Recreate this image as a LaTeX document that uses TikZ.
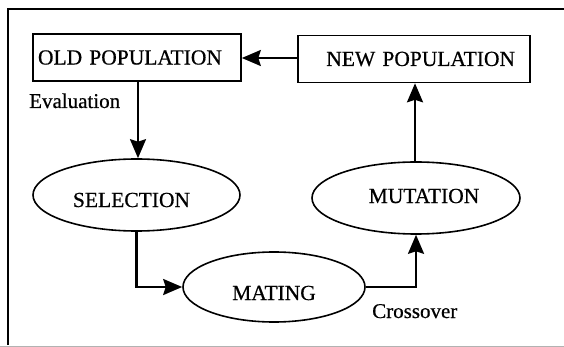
\documentclass[tikz,border=0pt]{standalone}
\usepackage{fontspec}
\setmainfont{Liberation Serif}
\newfontfamily\heavyserif[FakeBold=0.6]{Liberation Serif}
\usetikzlibrary{arrows.meta,shapes.geometric}
\tikzset{
  box/.style={draw, line width=1.6pt, rectangle, inner ysep=0pt, minimum height=47pt, font=\heavyserif\fontsize{21.5}{24}\selectfont},
  ell/.style={draw, line width=1.6pt, ellipse, inner sep=0pt},
  lbl/.style={font=\heavyserif\fontsize{21.5}{24}\selectfont},
  small/.style={font=\heavyserif\fontsize{21}{24}\selectfont, inner sep=0pt},
  arr/.style={line width=2.2pt, -{Stealth[length=19pt,width=16pt,inset=2.5pt]}},
}
\begin{document}
\begin{tikzpicture}[x=1pt,y=-1pt]
\useasboundingbox (0,0) rectangle (564,347);
% frame
\draw[line width=2.5pt] (8,345) -- (8,9) -- (570,9);
\draw[line width=0.8pt, black!30] (0,346) -- (564,346);
% boxes
\node[box, text width=198pt, inner xsep=5pt, align=left] (old) at (137,57.5) {OLD POPULATION};
\node[box, text width=202pt, inner xsep=15pt, align=right] (new) at (414,59) {NEW POPULATION};
% ellipses
\node[ell, minimum width=207pt, minimum height=72pt,
  label={[lbl, xshift=-5pt, yshift=-5pt]center:SELECTION}] (sel) at (136.5,195) {};
\node[ell, minimum width=182pt, minimum height=70pt,
  label={[lbl, yshift=-6pt]center:MATING}] (mat) at (274,287) {};
\node[ell, minimum width=208pt, minimum height=72pt,
  label={[lbl, xshift=8pt, yshift=2pt]center:MUTATION}] (mut) at (416,198) {};
% labels
\node[small, anchor=base west] (eval) at (29,108) {Evaluation};
\node[small, anchor=base west] (cross) at (372,318) {Crossover};
% connectors
\draw[arr] (new.west |- 0,58) -- (old.east |- 0,58);
\draw[arr] (old.south -| 138,0) -- (sel.north -| 138,0);
\draw[arr] (sel.south) |- (mat.west);
\draw[arr] (mat.east) -| (mut.south);
\draw[arr] (mut.north -| 415,0) -- (new.south -| 415,0);
\end{tikzpicture}
\end{document}
